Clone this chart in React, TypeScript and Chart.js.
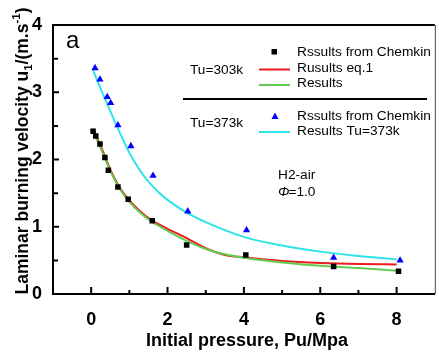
import React, { useEffect, useRef } from "react";
import { Chart, registerables } from "chart.js";

Chart.register(...registerables);

// Tu = 303 K, Chemkin results (squares)
const chemkin303X = [0.05, 0.12, 0.23, 0.36, 0.45, 0.7, 0.97, 1.6, 2.5, 4.05, 6.35, 8.05];
const chemkin303Y = [2.42, 2.35, 2.23, 2.03, 1.84, 1.59, 1.41, 1.09, 0.73, 0.58, 0.41, 0.34];
// Tu = 373 K, Chemkin results (triangles)
const chemkin373X = [0.1, 0.23, 0.42, 0.51, 0.7, 1.04, 1.62, 2.53, 4.07, 6.35, 8.09];
const chemkin373Y = [3.36, 3.19, 2.93, 2.84, 2.51, 2.2, 1.76, 1.23, 0.95, 0.54, 0.5];
// Fitted curves, Tu = 303 K
const fit303X = [0.05, 0.3, 0.5, 0.75, 1.0, 1.3, 1.6, 2.0, 2.5, 3.0, 3.5, 4.0, 5.0, 6.0, 7.0, 8.0];
const eq1Y = [2.46, 2.13, 1.85, 1.58, 1.39, 1.22, 1.09, 0.97, 0.83, 0.68, 0.58, 0.545, 0.49, 0.46, 0.445, 0.44];
const results303Y = [2.42, 2.1, 1.83, 1.56, 1.37, 1.2, 1.07, 0.94, 0.79, 0.67, 0.59, 0.54, 0.47, 0.42, 0.385, 0.346];
// Fitted curve, Tu = 373 K
const fit373X = [0.05, 0.25, 0.5, 0.75, 1.0, 1.25, 1.5, 1.75, 2.0, 2.5, 3.0, 4.0, 5.0, 6.0, 7.0, 8.0];
const results373Y = [3.33, 3.05, 2.72, 2.4, 2.1, 1.86, 1.67, 1.52, 1.4, 1.21, 1.07, 0.85, 0.72, 0.63, 0.565, 0.515];

const xTickValues = [0, 2, 4, 6, 8];
const xMinorValues = [1, 3, 5, 7];
const yTickValues = [0, 1, 2, 3, 4];
const yMinorValues = [0.5, 1.5, 2.5, 3.5];

const FONT = "'Liberation Sans', Arial, sans-serif";
const RED = "#ec1c1c";
const GREEN = "#62cc52";
const CYAN = "#2ee3ea";
const BLUE = "#0000ff";

const zip = (xs: number[], ys: number[]) => xs.map((x, i) => ({ x, y: ys[i] }));

const decorPlugin = {
  id: "decor",
  afterDraw(chart: any) {
    const ctx = chart.ctx as CanvasRenderingContext2D;
    const { left, right, top, bottom } = chart.chartArea;
    const xs = chart.scales.x;
    const ys = chart.scales.y;
    ctx.save();
    // frame: top and right
    ctx.strokeStyle = "#000";
    ctx.lineWidth = 2;
    ctx.beginPath();
    ctx.moveTo(left - 1, top);
    ctx.lineTo(right, top);
    ctx.stroke();
    ctx.strokeStyle = "#444";
    ctx.lineWidth = 1;
    ctx.beginPath();
    ctx.moveTo(right + 0.5, top);
    ctx.lineTo(right + 0.5, bottom);
    ctx.stroke();
    // inward ticks
    ctx.strokeStyle = "#000";
    ctx.lineWidth = 2;
    ctx.beginPath();
    xTickValues.forEach((v) => {
      const px = xs.getPixelForValue(v);
      ctx.moveTo(px, bottom);
      ctx.lineTo(px, bottom - 7);
    });
    xMinorValues.forEach((v) => {
      const px = xs.getPixelForValue(v);
      ctx.moveTo(px, bottom);
      ctx.lineTo(px, bottom - 4);
    });
    yTickValues.forEach((v) => {
      const py = ys.getPixelForValue(v);
      ctx.moveTo(left, py);
      ctx.lineTo(left + 6, py);
    });
    yMinorValues.forEach((v) => {
      const py = ys.getPixelForValue(v);
      ctx.moveTo(left, py);
      ctx.lineTo(left + 5, py);
    });
    ctx.stroke();

    // panel label
    ctx.fillStyle = "#000";
    ctx.font = `24px ${FONT}`;
    ctx.textAlign = "left";
    ctx.textBaseline = "alphabetic";
    ctx.fillText("a", 66, 48);

    // legend
    ctx.font = `13.7px ${FONT}`;
    ctx.textBaseline = "middle";
    ctx.fillText("Tu=303k", 190, 70);
    ctx.fillText("Tu=373k", 190, 123);
    ctx.fillText("Rssults from Chemkin", 297, 52);
    ctx.fillText("Rusults eq.1", 297, 68.5);
    ctx.fillText("Results", 297, 83.5);
    ctx.fillText("Rssults from Chemkin", 297, 116);
    ctx.fillText("Results Tu=373k", 297, 131);
    // legend symbols
    ctx.fillStyle = "#000";
    ctx.fillRect(271.5, 49, 5.5, 5.5);
    ctx.fillStyle = BLUE;
    ctx.beginPath();
    ctx.moveTo(275, 112.5);
    ctx.lineTo(278.5, 119);
    ctx.lineTo(271.5, 119);
    ctx.closePath();
    ctx.fill();
    ctx.lineWidth = 2;
    const seg = (c: string, y: number) => {
      ctx.strokeStyle = c;
      ctx.beginPath();
      ctx.moveTo(259, y);
      ctx.lineTo(290, y);
      ctx.stroke();
    };
    seg(RED, 69.5);
    seg(GREEN, 85);
    seg(CYAN, 132);
    // separator
    ctx.strokeStyle = "#000";
    ctx.lineWidth = 2;
    ctx.beginPath();
    ctx.moveTo(183, 99);
    ctx.lineTo(427, 99);
    ctx.stroke();

    // annotation
    ctx.fillStyle = "#000";
    ctx.font = `13.7px ${FONT}`;
    ctx.fillText("H2-air", 278, 175);
    ctx.font = `italic 13.7px ${FONT}`;
    ctx.fillText("Φ", 278, 192.5);
    const phiW = ctx.measureText("Φ").width;
    ctx.font = `13.7px ${FONT}`;
    ctx.fillText("=1.0", 278 + phiW - 1, 192.5);

    // x title
    ctx.font = `bold 18px ${FONT}`;
    ctx.textAlign = "center";
    ctx.textBaseline = "middle";
    ctx.fillText("Initial pressure, Pu/Mpa", 247, 341);

    // y title with subscript / superscript
    const main = `bold 17.5px ${FONT}`;
    const small = `bold 11.5px ${FONT}`;
    const parts: [string, string, number][] = [
      ["Laminar burning velocity u", main, 0],
      ["1", small, 4],
      ["/(m.s", main, 0],
      ["-1", small, -8],
      [")", main, 0],
    ];
    let total = 0;
    parts.forEach(([t, f]) => {
      ctx.font = f;
      total += ctx.measureText(t).width;
    });
    ctx.translate(28, 151);
    ctx.rotate(-Math.PI / 2);
    ctx.textAlign = "left";
    ctx.textBaseline = "alphabetic";
    let cx = -total / 2;
    parts.forEach(([t, f, dy]) => {
      ctx.font = f;
      ctx.fillText(t, cx, dy);
      cx += ctx.measureText(t).width;
    });
    ctx.restore();
  },
};

export default function App() {
  const ref = useRef<HTMLCanvasElement | null>(null);
  useEffect(() => {
    document.body.style.margin = "0";
    const canvas = ref.current!;
    const chart = new Chart(canvas, {
      type: "scatter",
      data: {
        datasets: [
          {
            label: "Rssults from Chemkin (303k)",
            data: zip(chemkin303X, chemkin303Y),
            pointStyle: "rect",
            pointRadius: 3.9,
            backgroundColor: "#000",
            borderColor: "#000",
            borderWidth: 0,
            showLine: false,
          },
          {
            label: "Rssults from Chemkin (373k)",
            data: zip(chemkin373X, chemkin373Y),
            pointStyle: "triangle",
            pointRadius: 4.2,
            backgroundColor: BLUE,
            borderColor: BLUE,
            borderWidth: 0,
            showLine: false,
          },
          {
            label: "Results",
            data: zip(fit303X, results303Y),
            showLine: true,
            pointRadius: 0,
            borderColor: GREEN,
            borderWidth: 2,
            cubicInterpolationMode: "monotone",
          },
          {
            label: "Rusults eq.1",
            data: zip(fit303X, eq1Y),
            showLine: true,
            pointRadius: 0,
            borderColor: RED,
            borderWidth: 2,
            cubicInterpolationMode: "monotone",
          },
          {
            label: "Results Tu=373k",
            data: zip(fit373X, results373Y),
            showLine: true,
            pointRadius: 0,
            borderColor: CYAN,
            borderWidth: 2,
            cubicInterpolationMode: "monotone",
          },
        ],
      },
      options: {
        animation: false,
        responsive: false,
        devicePixelRatio: 1,
        layout: { padding: { top: 25, right: 2, left: 0, bottom: 0 } },
        plugins: { legend: { display: false }, tooltip: { enabled: false }, title: { display: false } },
        scales: {
          x: {
            type: "linear",
            min: -1,
            max: 9,
            afterBuildTicks: (s: any) => {
              s.ticks = xTickValues.map((v) => ({ value: v }));
            },
            afterFit: (s: any) => {
              s.height = 64;
            },
            grid: { display: false },
            border: { display: true, color: "#000", width: 2 },
            ticks: {
              color: "#000",
              font: { family: FONT, size: 18, weight: "bold" },
              padding: 7,
              maxRotation: 0,
            },
          },
          y: {
            type: "linear",
            min: 0,
            max: 4,
            afterBuildTicks: (s: any) => {
              s.ticks = yTickValues.map((v) => ({ value: v }));
            },
            afterFit: (s: any) => {
              s.width = 53;
            },
            grid: { display: false },
            border: { display: true, color: "#000", width: 2 },
            ticks: {
              color: "#000",
              font: { family: FONT, size: 18, weight: "bold" },
              padding: 3,
            },
          },
        },
      },
      plugins: [decorPlugin],
    } as any);
    return () => chart.destroy();
  }, []);
  return <canvas ref={ref} width={439} height={358} style={{ display: "block", width: 439, height: 358 }} />;
}
